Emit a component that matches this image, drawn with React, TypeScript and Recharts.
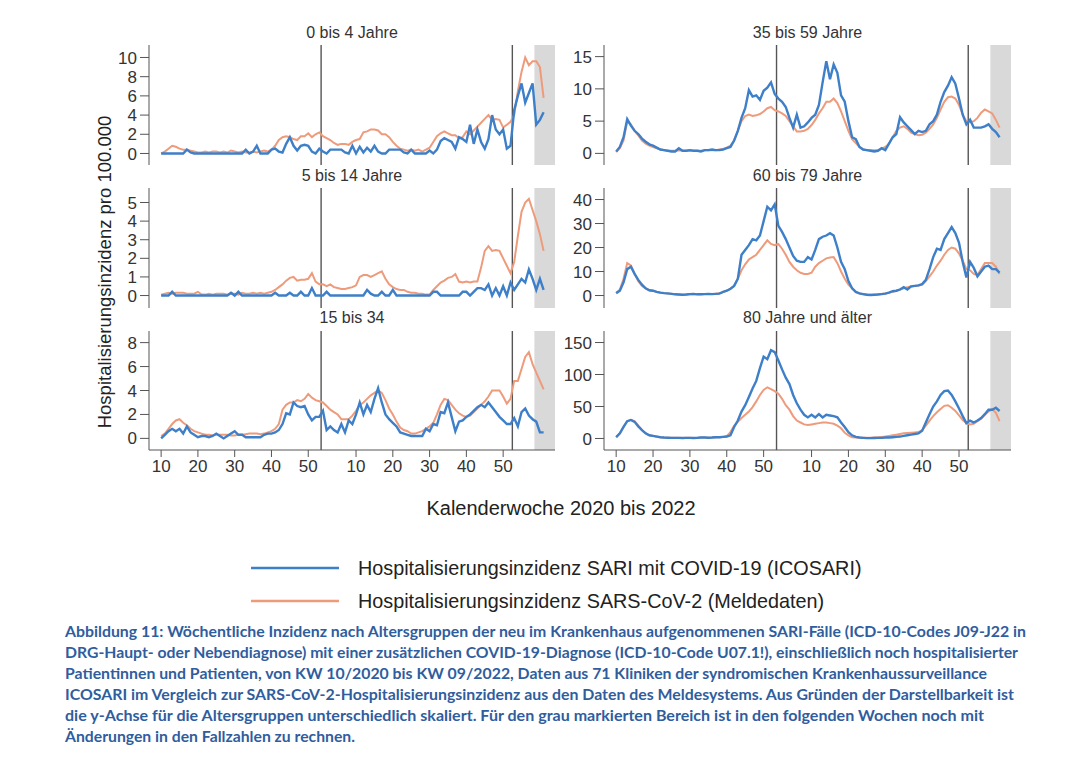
import React from 'react';
import {
  LineChart,
  Line,
  XAxis,
  YAxis,
  ReferenceLine,
  ReferenceArea,
} from 'recharts';

const BLUE = '#3d7fc8';
const ORANGE = '#ee9b7c';
const AXIS = '#555555';
const FONT = '"Liberation Sans", Arial, Helvetica, sans-serif';

// Kalenderwochen KW 10/2020 .. KW 09/2022 (2020 hat 53 Wochen)
const WEEKS: string[] = [];
for (let w = 10; w <= 53; w++) WEEKS.push(`2020-${w}`);
for (let w = 1; w <= 52; w++) WEEKS.push(`2021-${w}`);
for (let w = 1; w <= 9; w++) WEEKS.push(`2022-${w}`);

const TICK_WEEKS = [
  '2020-10', '2020-20', '2020-30', '2020-40', '2020-50',
  '2021-10', '2021-20', '2021-30', '2021-40', '2021-50',
];
const YEAR_STARTS = ['2021-1', '2022-1'];
const PRELIM_FROM = '2022-7'; // grau markierter Bereich

// ICOSARI (blau) / Meldedaten (orange), je Altersgruppe
const sari0_4 = [
  0, 0, 0, 0, 0, 0, 0, 0.4, 0.1, 0, 0, 0, 0, 0, 0, 0, 0, 0, 0, 0,
  0, 0, 0, 0.4, 0, 0.2, 0.8, 0, 0, 0, 0.4, 0.5, 0.2, 0.1, 1.0, 1.7, 0.8, 0.3, 0.8, 0.9,
  0.8, 0.2, 0, 0.5, 0.2, 0, 0.4, 0.4, 0.4, 0.4, 0.1, 0, 0.8, 0, 0.7, 0.1, 0.6, 0.2, 0.8, 0.2,
  0, 0, 0.4, 0.4, 0.4, 0.4, 0.1, 0, 0.4, 0, 0, 0, 0, 0.3, 0, 0.4, 1.3, 1.6, 1.4, 1.2,
  0.5, 1.7, 1.5, 1.2, 3.0, 1.0, 2.5, 1.2, 0.5, 1.5, 4.0, 2.5, 2.0, 2.5, 0.5, 0.8, 4.5, 6.0, 7.3, 5.3,
  6.3, 7.3, 3.0, 3.5, 4.3,
];
const melde0_4 = [
  0, 0.2, 0.5, 0.8, 0.7, 0.5, 0.4, 0.4, 0.3, 0.2, 0.1, 0.1, 0.2, 0.1, 0.2, 0.2, 0.1, 0.2, 0.1, 0.3,
  0.2, 0.1, 0.2, 0.1, 0.1, 0.2, 0.1, 0.2, 0.3, 0.2, 0.4, 0.8, 1.4, 1.7, 1.8, 1.7, 1.5, 1.4, 1.8, 1.8,
  2.1, 1.7, 2.0, 2.2, 1.8, 1.6, 1.4, 1.1, 0.9, 1.0, 1.0, 0.9, 1.2, 1.4, 1.5, 2.2, 2.3, 2.5, 2.5, 2.4,
  2.0, 2.0, 1.7, 1.2, 0.8, 0.5, 0.4, 0.3, 0.4, 0.3, 0.4, 0.2, 0.4, 0.6, 1.2, 1.8, 2.1, 2.3, 2.1, 1.9,
  1.9, 1.6, 1.7, 2.3, 2.0, 2.4, 2.8, 3.2, 3.6, 4.0, 3.5, 3.6, 3.5, 2.7, 3.0, 3.3, 4.0, 6.5, 8.5, 10.0,
  9.2, 9.6, 9.6, 9.0, 5.8,
];
const sari5_14 = [
  0, 0, 0, 0.2, 0, 0, 0, 0, 0, 0, 0, 0, 0, 0, 0, 0, 0, 0, 0, 0.15,
  0, 0.2, 0, 0, 0, 0, 0, 0, 0, 0, 0, 0.15, 0, 0, 0, 0.15, 0, 0, 0.2, 0,
  0, 0.4, 0, 0, 0, 0.2, 0, 0, 0, 0, 0, 0, 0, 0, 0, 0, 0.3, 0.1, 0, 0,
  0.2, 0, 0, 0.3, 0, 0, 0, 0, 0, 0, 0, 0, 0, 0, 0.2, 0.2, 0, 0, 0, 0,
  0, 0, 0.2, 0.2, 0, 0.2, 0.4, 0.4, 0.3, 0.6, 0, 0.4, 0, 0.5, 0, 0.7, 0.3, 0.6, 0.9, 0.7,
  1.4, 0.9, 0.3, 0.9, 0.3,
];
const melde5_14 = [
  0.05, 0.1, 0.15, 0.1, 0.15, 0.15, 0.15, 0.1, 0.1, 0.1, 0.2, 0.05, 0.05, 0.1, 0.05, 0.1, 0.1, 0.1, 0.05, 0.1,
  0.1, 0.05, 0.15, 0.1, 0.1, 0.15, 0.1, 0.15, 0.1, 0.15, 0.2, 0.3, 0.45, 0.6, 0.8, 0.95, 1.0, 0.8, 0.85, 0.85,
  0.9, 1.2, 0.75, 0.6, 0.6, 0.5, 0.6, 0.45, 0.4, 0.35, 0.35, 0.4, 0.45, 0.55, 1.0, 1.1, 1.1, 1.0, 1.1, 1.2,
  1.3, 0.9, 0.6, 0.45, 0.35, 0.3, 0.3, 0.2, 0.15, 0.15, 0.1, 0.1, 0.05, 0.05, 0.3, 0.5, 0.7, 0.8, 0.95, 1.0,
  1.15, 0.75, 0.7, 0.75, 0.7, 0.75, 0.75, 1.5, 2.4, 2.65, 2.4, 2.45, 2.4, 2.0, 1.6, 1.2, 1.8, 3.2, 4.5, 5.0,
  5.2, 4.6, 4.0, 3.3, 2.4,
];
const sari15_34 = [
  0, 0.3, 0.6, 0.8, 0.6, 0.8, 0.4, 1.0, 0.5, 0.3, 0.1, 0.2, 0.2, 0.1, 0.2, 0.4, 0.2, 0, 0.2, 0.4,
  0.6, 0.3, 0.3, 0.1, 0.1, 0.1, 0.1, 0.1, 0.3, 0.4, 0.4, 0.5, 0.7, 1.2, 2.1, 2.0, 3.0, 2.7, 2.6, 2.7,
  2.0, 1.5, 1.8, 1.8, 2.3, 0.7, 1.0, 0.7, 0.5, 1.2, 0.5, 1.5, 1.2, 2.0, 3.0, 2.0, 2.8, 2.2, 3.3, 4.2,
  3.0, 2.0, 1.6, 1.3, 1.0, 0.5, 0.4, 0.3, 0.2, 0.2, 0.2, 0.2, 0.8, 0.6, 1.2, 1.1, 2.2, 2.1, 3.0, 1.8,
  0.6, 1.4, 1.5, 1.8, 2.0, 2.3, 2.6, 2.8, 2.6, 3.0, 2.6, 2.2, 1.8, 1.5, 1.2, 1.2, 1.7, 1.0, 2.2, 2.5,
  1.9, 1.6, 1.4, 0.5, 0.5,
];
const melde15_34 = [
  0.2, 0.4, 0.8, 1.2, 1.5, 1.6, 1.3, 1.1, 0.8, 0.6, 0.5, 0.4, 0.3, 0.3, 0.25, 0.3, 0.3, 0.3, 0.3, 0.25,
  0.25, 0.3, 0.3, 0.35, 0.4, 0.4, 0.4, 0.35, 0.4, 0.5, 0.6, 0.8, 1.2, 2.4, 2.8, 3.0, 3.0, 3.2, 3.1, 3.3,
  3.7, 3.4, 3.2, 3.1, 3.0, 2.7, 2.4, 2.2, 2.0, 1.6, 1.6, 1.6, 1.9, 2.3, 2.8, 3.0, 3.3, 3.6, 3.8, 4.0,
  3.8, 3.2, 2.5, 2.0, 1.4, 0.9, 0.7, 0.6, 0.4, 0.4, 0.5, 0.6, 0.8, 1.0, 1.3, 2.0, 2.8, 3.3, 3.2, 2.8,
  2.4, 2.1, 1.9, 1.8, 1.9, 2.2, 2.5, 2.8, 3.1, 3.5, 4.0, 4.0, 4.0, 3.5, 2.9, 3.3, 4.8, 4.8, 5.8, 6.8,
  7.2, 6.2, 5.5, 4.8, 4.1,
];
const sari35_59 = [
  0.3, 1.0, 2.5, 5.3, 4.3, 3.5, 3.0, 2.3, 1.8, 1.4, 1.2, 0.9, 0.6, 0.5, 0.4, 0.3, 0.3, 0.8, 0.4, 0.4,
  0.5, 0.4, 0.4, 0.3, 0.5, 0.5, 0.6, 0.5, 0.5, 0.6, 0.8, 1.0, 2.0, 3.5, 5.5, 7.0, 9.8, 8.8, 9.0, 8.3,
  9.7, 10.2, 11.0, 9.2, 8.5, 8.0, 7.2, 5.5, 4.0, 6.0, 4.0, 4.2, 4.8, 5.5, 6.0, 7.5, 11.0, 14.3, 11.5, 13.8,
  12.5, 9.0, 8.0, 5.0, 2.5, 2.2, 1.0, 0.6, 0.5, 0.4, 0.3, 0.4, 0.8, 0.5, 1.5, 2.5, 3.0, 5.6, 4.8, 4.2,
  3.6, 3.0, 3.5, 3.3, 3.5, 4.5, 5.0, 6.0, 8.0, 9.5, 10.5, 11.8, 10.8, 8.5, 6.0, 4.5, 5.2, 4.0, 4.0, 4.0,
  4.2, 4.5, 3.8, 3.3, 2.5,
];
const melde35_59 = [
  0.2, 0.8, 2.0, 5.0, 4.5, 3.5, 2.8, 2.0, 1.5, 1.2, 1.0, 0.8, 0.6, 0.5, 0.4, 0.4, 0.4, 0.5, 0.4, 0.4,
  0.4, 0.4, 0.4, 0.4, 0.5, 0.5, 0.5, 0.5, 0.6, 0.7, 0.9, 1.2, 2.0, 3.5, 5.0, 5.8, 6.0, 5.8, 5.9, 6.1,
  6.5, 7.0, 7.2, 6.7, 6.5, 6.2, 5.8, 5.0, 4.2, 3.4, 3.4, 3.5, 3.8, 4.4, 5.2, 6.2, 7.0, 8.0, 8.0, 8.5,
  7.8, 6.5, 5.0, 3.5, 2.2, 1.6, 1.0, 0.6, 0.5, 0.5, 0.5, 0.5, 0.7, 1.0, 1.5, 2.5, 3.5, 4.0, 4.2, 3.8,
  3.2, 3.0, 2.8, 2.9, 3.2, 3.8, 4.5, 5.5, 6.8, 8.0, 8.7, 8.8, 8.5, 7.5, 6.0, 5.0, 4.8, 5.0, 5.5, 6.3,
  6.8, 6.5, 6.2, 5.2, 4.0,
];
const sari60_79 = [
  1.0, 2.0, 5.5, 11.0, 12.0, 9.0, 6.5, 4.5, 3.0, 2.2, 2.0, 1.5, 1.2, 1.0, 0.9, 0.7, 0.5, 0.4, 0.3, 0.4,
  0.6, 0.7, 0.5, 0.5, 0.6, 0.7, 0.6, 0.7, 0.8, 1.5, 2.0, 2.8, 4.0, 7.0, 17.0, 19.0, 21.0, 23.5, 23.0, 25.0,
  31.0, 37.0, 35.5, 38.0, 29.0, 26.5, 23.5, 20.0, 16.5, 14.5, 14.0, 14.0, 16.0, 15.0, 19.0, 23.5, 24.5, 25.0, 26.0, 25.0,
  20.0, 14.0, 11.0, 6.0, 3.0, 1.5, 0.9, 0.6, 0.3, 0.2, 0.3, 0.4, 0.6, 0.8, 1.2, 1.8, 2.0, 2.5, 3.5, 2.5,
  3.8, 4.0, 4.2, 4.8, 6.5, 11.0, 16.0, 19.5, 19.0, 23.5, 26.0, 28.5, 26.0, 22.0, 14.0, 7.5, 14.0, 11.5, 8.0, 10.0,
  12.0, 12.5, 11.0, 11.0, 9.5,
];
const melde60_79 = [
  1.0, 2.5, 7.0, 13.5, 12.5, 9.0, 6.0, 4.0, 3.0, 2.2, 2.0, 1.5, 1.2, 1.0, 0.8, 0.7, 0.5, 0.4, 0.3, 0.4,
  0.5, 0.6, 0.5, 0.5, 0.6, 0.6, 0.6, 0.7, 0.9, 1.4, 2.0, 2.8, 4.0, 7.0, 10.5, 13.0, 15.0, 16.0, 17.0, 19.0,
  21.0, 23.0, 21.5, 21.0, 21.5, 19.5, 17.0, 14.0, 12.0, 10.5, 9.5, 9.0, 9.0, 9.5, 12.0, 13.5, 14.5, 15.5, 15.8, 16.0,
  13.5, 10.0, 7.0, 4.5, 3.0, 1.5, 0.8, 0.5, 0.4, 0.3, 0.3, 0.5, 0.6, 0.8, 1.2, 1.6, 2.0, 2.5, 3.0, 3.5,
  3.8, 4.0, 4.2, 4.5, 6.0, 8.0, 10.0, 12.5, 14.5, 17.0, 19.0, 20.0, 19.5, 17.5, 14.5, 11.0, 10.5, 9.0, 8.5, 11.0,
  13.5, 13.5, 13.5, 12.0, 9.0,
];
const sari80plus = [
  2, 8, 18, 27, 29, 26, 19, 13, 8, 5, 4, 3, 2, 1.5, 1.2, 1.0, 1.0, 1.0, 0.8, 1.0,
  1.0, 0.8, 1.0, 1.5, 1.5, 1.2, 1.5, 2.0, 2.0, 2.5, 3.0, 5, 18, 28, 42, 52, 65, 78, 90, 110,
  128, 124, 138, 135, 122, 108, 95, 85, 68, 55, 45, 37, 33, 37, 33, 38, 33, 37, 36, 35,
  33, 25, 18, 10, 5, 2.5, 1.5, 1.0, 0.5, 0.5, 0.8, 1.0, 1.0, 1.5, 1.5, 2.0, 2.5, 3.0, 4.0, 5.0,
  6.0, 7.0, 8.0, 12, 25, 38, 50, 58, 68, 74, 75, 68, 58, 47, 35, 24, 28, 25, 28, 32,
  38, 45, 45, 48, 43,
];
const melde80plus = [
  2, 8, 18, 27, 29, 27, 20, 13, 8, 5, 4, 3, 2, 1.5, 1.2, 1.0, 1.0, 1.0, 0.8, 1.0,
  1.0, 0.8, 1.0, 1.5, 1.5, 1.2, 1.5, 2.0, 2.0, 2.5, 3.5, 10, 20, 26, 32, 37, 42, 49, 58, 68,
  76, 80, 77, 74, 70, 62, 52, 45, 35, 28, 25, 22, 21, 22, 23, 24, 25, 25, 24, 23,
  20, 16, 9, 5, 2, 1.5, 1.0, 1.0, 1.0, 1.0, 1.5, 2.0, 2.5, 3.0, 4.0, 5.0, 6.0, 7.0, 8.0, 8.5,
  9.0, 9.5, 10.0, 13, 20, 28, 35, 41, 46, 51, 52, 48, 43, 36, 29, 24, 22, 23, 27, 31,
  37, 42, 46, 40, 27,
];

const TITLES = [
  '0 bis 4 Jahre', '5 bis 14 Jahre', '15 bis 34',
  '35 bis 59 Jahre', '60 bis 79 Jahre', '80 Jahre und älter',
];
const Y_TICKS = [
  [0, 2, 4, 6, 8, 10],
  [0, 1, 2, 3, 4, 5],
  [0, 2, 4, 6, 8],
  [0, 5, 10, 15],
  [0, 10, 20, 30, 40],
  [0, 50, 100, 150],
];
const SARI = [sari0_4, sari5_14, sari15_34, sari35_59, sari60_79, sari80plus];
const MELDE = [melde0_4, melde5_14, melde15_34, melde35_59, melde60_79, melde80plus];

const LEGEND = [
  'Hospitalisierungsinzidenz SARI mit COVID-19 (ICOSARI)',
  'Hospitalisierungsinzidenz SARS-CoV-2 (Meldedaten)',
];
const CAPTION = [
  'Abbildung 11: Wöchentliche Inzidenz nach Altersgruppen der neu im Krankenhaus aufgenommenen SARI-Fälle (ICD-10-Codes J09-J22 in',
  'DRG-Haupt- oder Nebendiagnose) mit einer zusätzlichen COVID-19-Diagnose (ICD-10-Code U07.1!), einschließlich noch hospitalisierter',
  'Patientinnen und Patienten, von KW 10/2020 bis KW 09/2022, Daten aus 71 Kliniken der syndromischen Krankenhaussurveillance',
  'ICOSARI im Vergleich zur SARS-CoV-2-Hospitalisierungsinzidenz aus den Daten des Meldesystems. Aus Gründen der Darstellbarkeit ist',
  'die y-Achse für die Altersgruppen unterschiedlich skaliert. Für den grau markierten Bereich ist in den folgenden Wochen noch mit',
  'Änderungen in den Fallzahlen zu rechnen.',
];

// layout (pixels)
const COLS = [
  { axisX: 149, plotW: 406 },
  { axisX: 604, plotW: 407 },
];
const ROWS = [
  { top: 45, h: 120, titleY: 38 },
  { top: 188, h: 120, titleY: 181 },
  { top: 331, h: 119, titleY: 323 },
];
// y domains (padding below zero / above top tick as in the original)
const Y_DOMAINS: [number, number][] = [
  [-1.2, 11.3],
  [-0.67, 5.78],
  [-0.97, 8.97],
  [-1.8, 16.8],
  [-5.2, 44.8],
  [-18, 168],
];
const X_DOMAIN: [number, number] = [-3.3, 107.1];
const CAPTION_LEN = [961, 953, 922, 949, 919, 290];

const tickIdx = TICK_WEEKS.map((w) => WEEKS.indexOf(w));
const yearLines = YEAR_STARTS.map((w) => WEEKS.indexOf(w) - 0.5);
const prelimStart = WEEKS.indexOf(PRELIM_FROM) - 0.5;

type PanelProps = {
  idx: number;
};

const Panel: React.FC<PanelProps> = ({ idx }) => {
  const col = COLS[Math.floor(idx / 3)];
  const row = ROWS[idx % 3];
  const bottom = idx % 3 === 2;
  const sari = SARI[idx];
  const melde = MELDE[idx];
  const data = WEEKS.map((w, i) => ({ i, kw: w, sari: sari[i], melde: melde[i] }));
  const domain = Y_DOMAINS[idx];

  return (
    <div style={{ position: 'absolute', left: col.axisX - 60, top: row.top }}>
      <LineChart
        width={60 + col.plotW}
        height={row.h + (bottom ? 40 : 0)}
        data={data}
        margin={{ top: 0, right: 0, bottom: 0, left: 0 }}
      >
        <XAxis
          dataKey="i"
          type="number"
          domain={X_DOMAIN}
          allowDataOverflow
          hide={!bottom}
          ticks={tickIdx}
          interval={0}
          tickFormatter={(v: number) => WEEKS[v]?.split('-')[1] ?? ''}
          height={40}
          tickSize={7}
          tickMargin={3}
          stroke={AXIS}
          tick={{ fill: '#333', fontSize: 17 }}
        />
        <YAxis
          type="number"
          domain={domain}
          allowDataOverflow
          ticks={Y_TICKS[idx]}
          interval={0}
          width={60}
          tickSize={9}
          tickMargin={3}
          stroke={AXIS}
          tick={{ fill: '#333', fontSize: 17 }}
        />
        <ReferenceArea
          x1={prelimStart}
          x2={X_DOMAIN[1]}
          y1={domain[0]}
          y2={domain[1]}
          fill="#d9d9d9"
          fillOpacity={1}
          stroke="none"
        />
        {yearLines.map((x) => (
          <ReferenceLine key={x} x={x} stroke={AXIS} strokeWidth={1.4} />
        ))}
        <Line
          dataKey="melde"
          stroke={ORANGE}
          strokeWidth={2}
          dot={false}
          isAnimationActive={false}
        />
        <Line
          dataKey="sari"
          stroke={BLUE}
          strokeWidth={2.4}
          dot={false}
          isAnimationActive={false}
        />
      </LineChart>
    </div>
  );
};

const App: React.FC = () => {
  return (
    <div
      style={{
        position: 'absolute',
        left: 0,
        top: 0,
        width: 1090,
        height: 770,
        background: '#fff',
        fontFamily: FONT,
      }}
    >
      <svg
        width={1090}
        height={770}
        style={{ position: 'absolute', left: 0, top: 0 }}
      >
        {TITLES.map((t, k) => {
          const col = COLS[Math.floor(k / 3)];
          const row = ROWS[k % 3];
          return (
            <text
              key={t}
              x={col.axisX + col.plotW / 2}
              y={row.titleY}
              textAnchor="middle"
              fontSize={16}
              fill="#333"
            >
              {t}
            </text>
          );
        })}
        <text
          x={0}
          y={0}
          transform="translate(111 272) rotate(-90)"
          textAnchor="middle"
          fontSize={18.5}
          fill="#222"
        >
          Hospitalisierungsinzidenz pro 100.000
        </text>
        <text x={561} y={515} textAnchor="middle" fontSize={20} fill="#222">
          Kalenderwoche 2020 bis 2022
        </text>
        {LEGEND.map((t, k) => (
          <g key={t}>
            <line
              x1={251}
              x2={339}
              y1={568 + k * 33}
              y2={568 + k * 33}
              stroke={k === 0 ? BLUE : ORANGE}
              strokeWidth={2.5}
            />
            <text x={358} y={575 + k * 33} fontSize={19.8} fill="#222">
              {t}
            </text>
          </g>
        ))}
        {CAPTION.map((t, k) => (
          <text
            key={k}
            x={65}
            y={637 + k * 21}
            fontFamily='Lato, "Open Sans", sans-serif'
            fontWeight={700}
            fontSize={15}
            fill="#2f5d9e"
            textLength={CAPTION_LEN[k]}
            lengthAdjust="spacingAndGlyphs"
          >
            {t}
          </text>
        ))}
      </svg>
      {TITLES.map((t, k) => (
        <Panel key={t} idx={k} />
      ))}
    </div>
  );
};

export default App;
